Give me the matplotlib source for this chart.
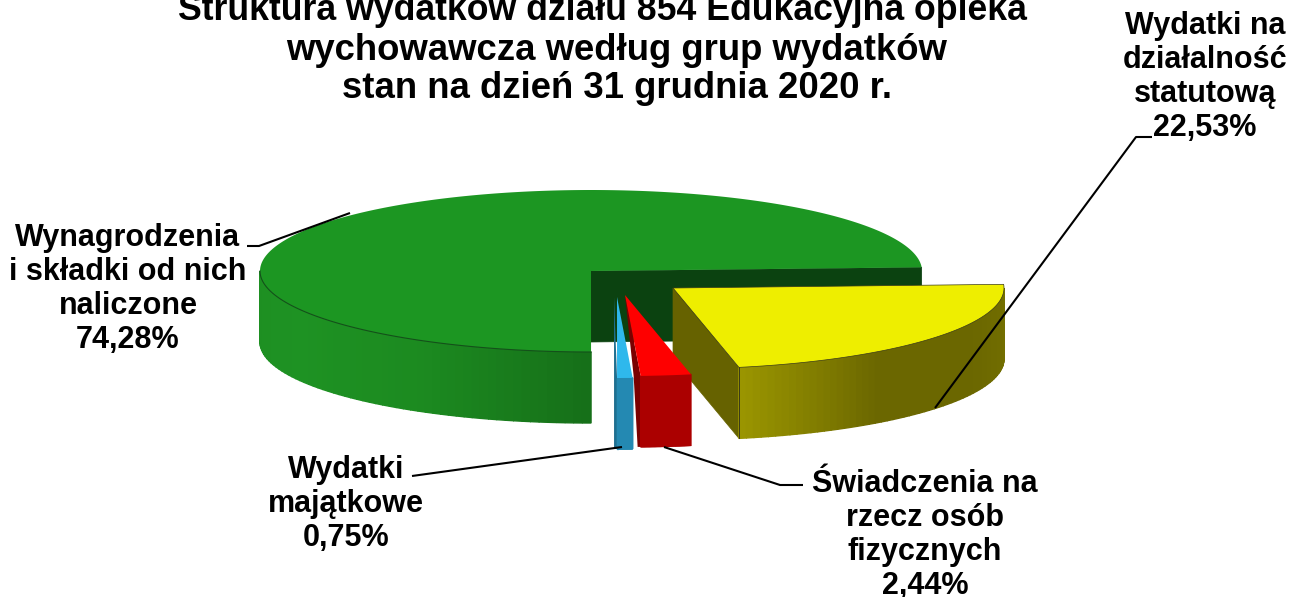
import numpy as np
import matplotlib
matplotlib.use("Agg")
import matplotlib.pyplot as plt
from matplotlib.patches import Polygon
from matplotlib.colors import to_rgb

plt.rcParams['font.family'] = ['Liberation Sans', 'DejaVu Sans']

# data, clockwise from the first slice
names = ["Wydatki na\ndziałalność\nstatutową", "Świadczenia na\nrzecz osób\nfizycznych",
         "Wydatki\nmajątkowe", "Wynagrodzenia\ni składki od nich\nnaliczone"]
shares = [22.53, 2.44, 0.75, 74.28]
title_lines = ["Struktura wydatków działu 854 Edukacyjna opieka",
               "wychowawcza według grup wydatków",
               "stan na dzień 31 grudnia 2020 r."]

top_colors = ["#eeee00", "#fe0000", "#2fb8ec", "#1c9622"]
side_colors = ["#666200", "#7a0000", "#1f6f90", "#0b4210"]
front_stops = [["#9a9500", "#6b6700", "#6b6700", "#736f00"],
               ["#ab0000", "#ab0000"],
               ["#2489b2", "#2489b2"],
               ["#1e8f22", "#1e9223", "#1c8a20", "#167019"]]

# apex of each slice in figure pixels
apex = [(673, 288), (625, 295), (617, 297), (591, 271)]
rx, ry, depth = 331, 81, 71
start_angle = 2.6


def arc(cx, cy, a, b, n=120):
    t = np.radians(np.linspace(a, b, n))
    return np.column_stack([cx + rx * np.cos(t), cy - ry * np.sin(t)])


def point(cx, cy, a):
    return arc(cx, cy, a, a, 1)[0]


def front_wall(ax, cx, cy, a, b, stops, z):
    # outer wall, drawn as thin strips for the shading
    n = 60
    t = np.linspace(a, b, n + 1)
    stops = [np.array(to_rgb(c)) for c in stops]
    pos = np.linspace(0, 1, len(stops))
    for i in range(n):
        f = i / (n - 1)
        col = [np.interp(f, pos, [s[k] for s in stops]) for k in range(3)]
        top = arc(cx, cy, t[i], t[i + 1], 4)
        low = top[::-1] + [0, depth]
        ax.add_patch(Polygon(np.vstack([top, low]), fc=col, ec=col, lw=1.0, zorder=z))


fig = plt.figure(figsize=(13.03, 5.97), dpi=100)
ax = fig.add_axes([0, 0, 1, 1])
ax.set_xlim(0, 1303)
ax.set_ylim(597, 0)
ax.axis("off")

# slice angles from the shares
angles = [start_angle]
for s in shares:
    angles.append(angles[-1] - s * 3.6)

edge = "#3a3a1a"

# green slice first, it lies at the back
cx, cy = apex[3]
a_end = angles[3] + 360
a_start = angles[4] + 360
p = point(cx, cy, a_start)
ax.add_patch(Polygon([(cx, cy), p, p + [0, depth], (cx, cy + depth)],
                     fc=side_colors[3], ec=side_colors[3], lw=0.5, zorder=2))
front_wall(ax, cx, cy, 180, a_end, front_stops[3], 3)
pts = np.vstack([[(cx, cy)], arc(cx, cy, a_start, a_end, 300)])
ax.add_patch(Polygon(pts, fc=top_colors[3], ec="none", zorder=4))
ax.plot(*arc(cx, cy, 180, a_end, 80).T, color="#14501a", lw=0.8, zorder=4)

# yellow slice
cx, cy = apex[0]
p = point(cx, cy, angles[1])
ax.add_patch(Polygon([(cx, cy), p, p + [0, depth], (cx, cy + depth)],
                     fc=side_colors[0], ec=side_colors[0], lw=0.5, zorder=5))
front_wall(ax, cx, cy, angles[1], 0, front_stops[0], 6)
pts = np.vstack([[(cx, cy)], arc(cx, cy, angles[0], angles[1], 80)])
ax.add_patch(Polygon(pts, fc=top_colors[0], ec=edge, lw=0.5, zorder=7))
ax.plot([p[0], p[0]], [p[1], p[1] + depth], color=edge, lw=0.7, zorder=7)

# blue slice
cx, cy = apex[2]
p = point(cx, cy, angles[3])
ax.add_patch(Polygon([(cx - 3, cy), (p[0] - 3, p[1]), (p[0] - 3, p[1] + depth), p + [0, depth], p],
                     fc=side_colors[2], ec="none", zorder=8))
front_wall(ax, cx, cy, angles[2], angles[3], front_stops[2], 9)
pts = np.vstack([[(cx, cy)], arc(cx, cy, angles[2], angles[3], 10)])
ax.add_patch(Polygon(pts, fc=top_colors[2], ec="none", zorder=10))

# red slice, the dark sliver is its cut face seen from the left
cx, cy = apex[1]
q = point(cx, cy, angles[2])
ax.add_patch(Polygon([(cx, cy), q, q + [0, depth], q + [-3, depth], q + [-7, 0]],
                     fc=side_colors[1], ec="none", zorder=11))
front_wall(ax, cx, cy, angles[1], angles[2], front_stops[1], 12)
pts = np.vstack([[(cx, cy)], arc(cx, cy, angles[1], angles[2], 10)])
ax.add_patch(Polygon(pts, fc=top_colors[1], ec="none", zorder=13))

# leader lines
leaders = [[(247, 246), (259, 246), (350, 213)],
           [(1152, 137), (1136, 137), (935, 408)],
           [(412, 476), (622, 447)],
           [(664, 447), (780, 485), (803, 485)]]
for line in leaders:
    x, y = zip(*line)
    ax.plot(x, y, color="black", lw=1.5, zorder=15, solid_capstyle="butt")

# title, the lines are not on a common centre in the picture
title_pos = [(602, 10), (617, 50), (617, 89)]
title_sizes = [25.7, 26.3, 26.3]
for s, (x, y), size in zip(title_lines, title_pos, title_sizes):
    ax.text(x, y, s, fontsize=size, fontweight="bold", ha="center", va="center", zorder=20)

label_pos = [(1205, 77), (925, 535), (346, 504), (128, 289)]
for name, share, (x, y) in zip(names, shares, label_pos):
    s = name + "\n" + f"{share:.2f}%".replace(".", ",")
    ax.text(x, y, s, fontsize=22, fontweight="bold", ha="center", va="center",
            linespacing=1.16, zorder=20)

fig.savefig("out.png", dpi=100)
